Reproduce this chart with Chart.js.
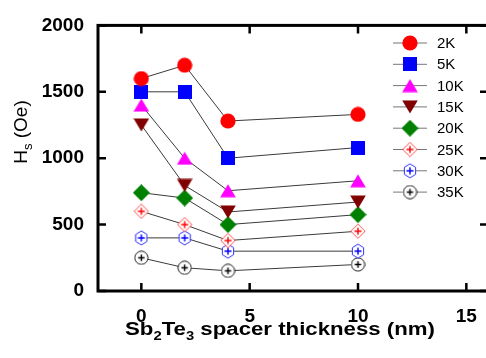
<!DOCTYPE html>
<html>
<head>
<meta charset="utf-8">
<script src="https://cdn.jsdelivr.net/npm/chart.js@4/dist/chart.umd.min.js"></script>
<style>
  html, body { margin: 0; padding: 0; background: #fff; overflow: hidden; }
  #wrap { width: 500px; height: 358px; position: relative; }
</style>
</head>
<body>
<div id="wrap"><canvas id="c" width="500" height="358"></canvas></div>
<script>
// ---- data ----
const thickness = [0, 2, 4, 10];               // Sb2Te3 spacer thickness (nm)
const seriesLabels = ['2K', '5K', '10K', '15K', '20K', '25K', '30K', '35K'];
const hs2K  = [1600, 1700, 1280, 1330];
const hs5K  = [1500, 1500, 1000, 1080];
const hs10K = [1400, 1000, 755, 830];
const hs15K = [1250, 795, 595, 670];
const hs20K = [740, 700, 500, 575];
const hs25K = [600, 500, 380, 450];
const hs30K = [400, 400, 300, 300];
const hs35K = [250, 175, 152, 200];
const xTickValues = [0, 5, 10, 15];
const yTickValues = [0, 500, 1000, 1500, 2000];

const allSeries = [hs2K, hs5K, hs10K, hs15K, hs20K, hs25K, hs30K, hs35K];

// ---- marker images ----
function mk(w, h, draw) {
  const c = document.createElement('canvas');
  c.width = w; c.height = h;
  const g = c.getContext('2d');
  draw(g, w, h);
  return c;
}
function plus(g, cx, cy, s, color) {
  g.strokeStyle = color; g.lineWidth = 1.4;
  g.beginPath();
  g.moveTo(cx - s, cy); g.lineTo(cx + s, cy);
  g.moveTo(cx, cy - s); g.lineTo(cx, cy + s);
  g.stroke();
}
const markers = [
  mk(16, 16, (g) => { g.fillStyle = '#ff0000'; g.beginPath(); g.arc(8, 8, 7.6, 0, Math.PI * 2); g.fill(); }),
  mk(14, 14, (g) => { g.fillStyle = '#0000ff'; g.fillRect(0, 0, 14, 14); }),
  mk(16, 14, (g) => { g.fillStyle = '#ff00ff'; g.beginPath(); g.moveTo(8, 0.5); g.lineTo(15.8, 13.5); g.lineTo(0.2, 13.5); g.closePath(); g.fill(); }),
  mk(16, 14, (g) => { g.fillStyle = '#800000'; g.beginPath(); g.moveTo(0.2, 0.5); g.lineTo(15.8, 0.5); g.lineTo(8, 13.5); g.closePath(); g.fill(); }),
  mk(17, 17, (g) => { g.fillStyle = '#008000'; g.beginPath(); g.moveTo(8.5, 0); g.lineTo(17, 8.5); g.lineTo(8.5, 17); g.lineTo(0, 8.5); g.closePath(); g.fill(); }),
  mk(16, 16, (g) => {
    g.fillStyle = '#fff'; g.strokeStyle = '#ff5050'; g.lineWidth = 1;
    g.beginPath(); g.moveTo(8, 0.8); g.lineTo(15.2, 8); g.lineTo(8, 15.2); g.lineTo(0.8, 8); g.closePath(); g.fill(); g.stroke();
    plus(g, 8, 8, 3.5, '#ff0000');
  }),
  mk(14, 16, (g) => {
    g.fillStyle = '#fff'; g.strokeStyle = '#3030ff'; g.lineWidth = 1;
    const cx = 7, cy = 8, r = 7;
    g.beginPath();
    for (let i = 0; i < 6; i++) {
      const a = -Math.PI / 2 + i * Math.PI / 3;
      const px = cx + r * Math.cos(a) * 0.93, py = cy + r * Math.sin(a);
      if (i === 0) g.moveTo(px, py); else g.lineTo(px, py);
    }
    g.closePath(); g.fill(); g.stroke();
    plus(g, 7, 8, 3.5, '#0000ff');
  }),
  mk(15, 15, (g) => {
    g.fillStyle = '#fff'; g.strokeStyle = '#222'; g.lineWidth = 1;
    g.beginPath(); g.arc(7.5, 7.5, 6.6, 0, Math.PI * 2); g.fill(); g.stroke();
    plus(g, 7.5, 7.5, 3.2, '#000');
  })
];

const datasets = allSeries.map((vals, i) => ({
  label: seriesLabels[i],
  data: thickness.map((t, j) => ({ x: t, y: vals[j] })),
  borderColor: '#3a3a3a',
  borderWidth: 1,
  pointStyle: markers[i],
  pointRadius: 8,
  pointHoverRadius: 8,
  fill: false
}));

// ---- plugins ----
const framePlugin = {
  id: 'frame',
  beforeDatasetsDraw(chart) {
    const { ctx, chartArea: a, scales } = chart;
    ctx.save();
    ctx.strokeStyle = '#000';
    ctx.lineWidth = 2.5;
    const tl = 8;
    ctx.beginPath();
    xTickValues.forEach(v => {
      const px = scales.x.getPixelForValue(v);
      ctx.moveTo(px, a.bottom); ctx.lineTo(px, a.bottom - tl);
      ctx.moveTo(px, a.top); ctx.lineTo(px, a.top + tl);
    });
    yTickValues.forEach(v => {
      const py = scales.y.getPixelForValue(v);
      ctx.moveTo(a.left, py); ctx.lineTo(a.left + tl, py);
      ctx.moveTo(a.right, py); ctx.lineTo(a.right - tl, py);
    });
    ctx.stroke();
    ctx.lineWidth = 3;
    ctx.strokeRect(a.left, a.top, a.right - a.left, a.bottom - a.top);
    ctx.restore();
  }
};

const legendPlugin = {
  id: 'customLegend',
  afterDatasetsDraw(chart) {
    const ctx = chart.ctx;
    ctx.save();
    const x0 = 393, x1 = 427, mx = 410, tx = 437, y0 = 43, dy = 21.3;
    chart.data.datasets.forEach((ds, i) => {
      const y = y0 + i * dy;
      ctx.strokeStyle = '#777'; ctx.lineWidth = 1;
      ctx.beginPath(); ctx.moveTo(x0, y); ctx.lineTo(x1, y); ctx.stroke();
      const img = ds.pointStyle;
      ctx.drawImage(img, mx - img.width / 2, y - img.height / 2);
      ctx.fillStyle = '#000';
      ctx.font = '15px "Liberation Sans", Arial, sans-serif';
      ctx.textBaseline = 'middle';
      ctx.textAlign = 'left';
      ctx.fillText(ds.label, tx, y + 1);
    });
    ctx.restore();
  }
};

function drawRuns(ctx, runs, x, y) {
  let cx = x;
  runs.forEach(([t, f, off]) => {
    ctx.font = f;
    ctx.fillText(t, cx, y + off);
    cx += ctx.measureText(t).width;
  });
}
function runsWidth(ctx, runs) {
  let w = 0;
  runs.forEach(([t, f]) => { ctx.font = f; w += ctx.measureText(t).width; });
  return w;
}

const titlePlugin = {
  id: 'titles',
  afterDraw(chart) {
    const ctx = chart.ctx;
    ctx.save();
    ctx.fillStyle = '#000';
    ctx.textBaseline = 'alphabetic';
    ctx.textAlign = 'left';
    // x title
    const B = 'bold 18px "Liberation Sans", Arial, sans-serif';
    const Bs = 'bold 12px "Liberation Sans", Arial, sans-serif';
    const xr = [['Sb', B, 0], ['2', Bs, 5], ['Te', B, 0], ['3', Bs, 5], [' spacer thickness (nm)', B, 0]];
    const w = runsWidth(ctx, xr);
    const target = 310, cx = 280, base = 335;
    const sx = target / w;
    ctx.save();
    ctx.translate(cx - target / 2, 0);
    ctx.scale(sx, 1);
    drawRuns(ctx, xr, 0, base);
    ctx.restore();
    // y title
    const R = '19px "Liberation Sans", Arial, sans-serif';
    const Rs = '13px "Liberation Sans", Arial, sans-serif';
    const yr = [['H', R, 0], ['s', Rs, 5], [' (Oe)', R, 0]];
    const wy = runsWidth(ctx, yr);
    ctx.save();
    ctx.translate(27, 132);
    ctx.rotate(-Math.PI / 2);
    drawRuns(ctx, yr, -wy / 2, 0);
    ctx.restore();
    ctx.restore();
  }
};

new Chart(document.getElementById('c'), {
  type: 'line',
  data: { datasets },
  options: {
    responsive: false,
    animation: false,
    events: [],
    layout: { padding: { top: 18, right: 12, left: 0, bottom: 0 } },
    plugins: { legend: { display: false }, tooltip: { enabled: false } },
    scales: {
      x: {
        type: 'linear',
        min: -2,
        max: 16,
        grid: { display: false, drawTicks: false },
        border: { display: false },
        afterBuildTicks: (s) => { s.ticks = xTickValues.map(v => ({ value: v })); },
        afterFit: (s) => { s.height = 67; },
        ticks: {
          color: '#000',
          padding: 14,
          maxRotation: 0,
          callback: (v) => String(v),
          font: { family: '"Liberation Sans", Arial, sans-serif', size: 19, weight: 'bold' }
        }
      },
      y: {
        type: 'linear',
        min: 0,
        max: 2000,
        grid: { display: false, drawTicks: false },
        border: { display: false },
        afterBuildTicks: (s) => { s.ticks = yTickValues.map(v => ({ value: v })); },
        afterFit: (s) => { s.width = 98; },
        ticks: {
          color: '#000',
          padding: 14,
          callback: (v) => String(v),
          font: { family: '"Liberation Sans", Arial, sans-serif', size: 19, weight: 'bold' }
        }
      }
    }
  },
  plugins: [framePlugin, legendPlugin, titlePlugin]
});
</script>
</body>
</html>
